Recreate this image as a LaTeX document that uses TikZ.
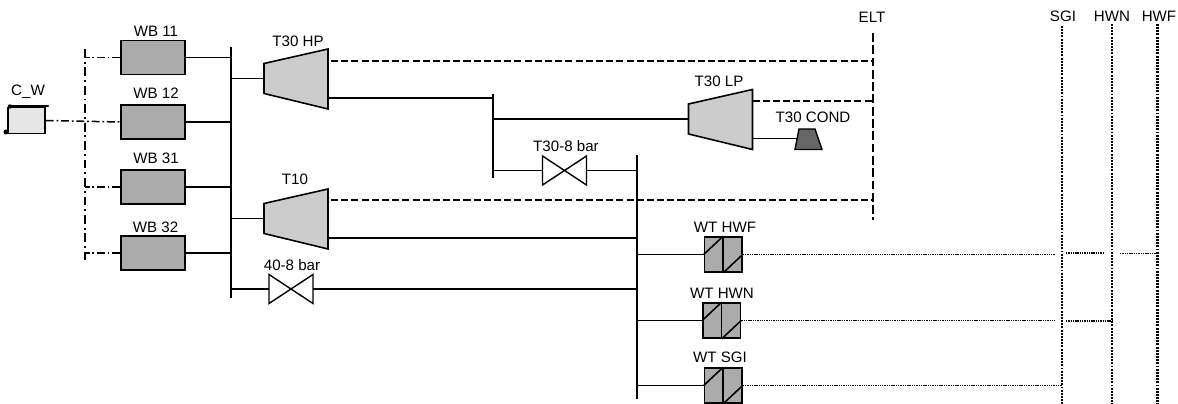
\documentclass[tikz,border=0pt]{standalone}
\usepackage{fontspec}
\setmainfont{Liberation Sans}
\definecolor{boxgray}{HTML}{ABABAB}
\definecolor{turbgray}{HTML}{CCCCCC}
\definecolor{tankgray}{HTML}{E6E6E6}
\definecolor{condgray}{HTML}{666666}
\tikzset{
	lbl/.style={font=\fontsize{8.6pt}{10pt}\selectfont,inner sep=0pt},
	pipe/.style={line width=0.9pt},
	bus/.style={line width=1.3pt},
	elec/.style={line width=0.85pt,dash pattern=on 4pt off 1.8pt},
	elecbus/.style={line width=1.3pt,dash pattern=on 5pt off 2pt},
	water/.style={line width=0.85pt,dash pattern=on 4.5pt off 1.6pt on 1pt off 1.6pt},
	waterbus/.style={line width=1.3pt,dash pattern=on 5pt off 2.2pt on 1.1pt off 2.2pt},
	heat/.style={line width=0.7pt,dash pattern=on 0.8pt off 0.5pt},
	heatbus/.style={line width=1.4pt,dash pattern=on 1.1pt off 0.7pt},
	boiler/.style={draw,line width=0.9pt,fill=boxgray,minimum width=64*0.02cm,minimum height=34*0.02cm,inner sep=0pt},
	exch/.style={draw,line width=0.9pt,fill=boxgray,minimum width=37.5*0.02cm,minimum height=35*0.02cm,inner sep=0pt},
	turbine/.pic={
		\draw[line width=0.9pt,fill=turbgray] (0,-15) -- (64,-29.5) -- (64,30.5) -- (0,15) -- cycle;
		\coordinate (-in) at (0,0);
		\coordinate (-out) at (64,19.5);
		\coordinate (-el) at (64,-18);
	},
	valve/.pic={
		\draw[line width=0.8pt,fill=white] (-22,-14.5) -- (22,14.5) -- (22,-14.5) -- (-22,14.5) -- cycle;
		\coordinate (-l) at (-22,0);
		\coordinate (-r) at (22,0);
	},
}
\begin{document}
\begin{tikzpicture}[x=0.02cm,y=-0.02cm]
		\useasboundingbox (0,0) rectangle (1178,404);
		% rails
		\coordinate(mainT)at(231,47);
		\coordinate(mainB)at(231,298);
		\coordinate(lpT)at(493,94);
		\coordinate(lpB)at(493,178);
		\coordinate(lowT)at(637,155);
		\coordinate(lowB)at(637,399);
		\coordinate(eltT)at(873,33);
		\coordinate(eltB)at(873,220);
		\coordinate(sgiT)at(1062,26);
		\coordinate(sgiB)at(1062,404);
		\coordinate(hwnT)at(1112,24);
		\coordinate(hwnB)at(1112,404);
		\coordinate(hwfT)at(1157.5,24);
		\coordinate(hwfB)at(1157.5,404);
		\coordinate(wtrT)at(85,49);
		\coordinate(wtrB)at(85,260);
		\draw[bus] (mainT) -- (mainB);
		\draw[bus] (lpT) -- (lpB);
		\draw[bus] (lowT) -- (lowB);
		\draw[elecbus] (eltT) -- (eltB);
		\draw[heatbus] (sgiT) -- (sgiB);
		\draw[heatbus] (hwnT) -- (hwnB);
		\draw[heatbus] (hwfT) -- (hwfB);
		\draw[waterbus] (wtrT) -- (wtrB);
		\node[lbl] (eltlbl) at (872,17) {ELT};
		\node[lbl] (sgilbl) at (1063,16) {SGI};
		\node[lbl] (hwnlbl) at (1112,16) {HWN};
		\node[lbl] (hwflbl) at (1159,16) {HWF};
		% cooling water tank
		\node[draw,line width=0.9pt,fill=tankgray,minimum width=37*0.02cm,minimum height=26*0.02cm,inner sep=0pt] (cw) at (26.5,120.5) {};
		\draw[line width=1.3pt,line cap=round] (10,106) -- (48,106);
		\fill (10,106.5) circle (2.2*0.02cm);
		\fill (6,132) circle (2.5*0.02cm);
		\node[lbl] (cwlbl) at (28,92) {C\_W};
		% boilers
		\foreach \name/\yb/\txt/\tx/\ty in {wb11/57.5/WB 11/156/31,wb12/122/WB 12/156/93,wb31/187/WB 31/156/158,wb32/253/WB 32/155.5/227}{%
			\node[boiler] (\name) at (153,\yb) {};
			\node[lbl] (\name lbl) at (\tx,\ty) {\txt};
			\draw[pipe] (\name.east) -- (\name.east -| mainT);
			\coordinate (\name w) at (\name.west -| wtrT);
			}
		\draw[water] (wb11.west) -- (wb11w);
		\draw[water] (wb31.west) -- (wb31w);
		\draw[water] (wb32.west) -- (wb32w);
		\draw[water] (cw.east) -- (wb12.west);
		% turbines
		\pic (hp) at (264,78.5) {turbine};
		\pic (ten) at (264,218.5) {turbine};
		\pic (lp) at (688.5,119) {turbine};
		\node[lbl] (hplbl) at (298,41) {T30 HP};
		\node[lbl] (tenlbl) at (295,179) {T10};
		\node[lbl] (lplbl) at (719,81) {T30 LP};
		\draw[pipe] (hp-in -| mainT) -- (hp-in);
		\draw[pipe] (ten-in -| mainT) -- (ten-in);
		\draw[pipe] (hp-out) -- (hp-out -| lpT);
		\draw[pipe] (ten-out) -- (ten-out -| lowT);
		\draw[pipe] (lp-in -| lpT) -- (lp-in);
		\draw[elec] (331,61) -- (331,61 -| eltT);
		\draw[elec] (331,200) -- (331,200 -| eltT);
		\draw[elec] (lp-el) -- (lp-el -| eltT);
		% condenser
		\draw[line width=0.8pt,fill=condgray] (799,129) coordinate (condA) -- (815,129) -- (822,149.5) -- (795,149.5) -- cycle;
		\node[lbl] (condlbl) at (813,117) {T30 COND};
		\coordinate (condin) at (797,138.5);
		\draw[pipe] (lp-out) -- (condin);
		% valves
		\pic (vhi) at (291,289) {valve};
		\pic (vlo) at (564.5,170.5) {valve};
		\node[lbl] (vhilbl) at (292,265) {40-8 bar};
		\node[lbl] (vlolbl) at (566,146) {T30-8 bar};
		\draw[pipe] (vhi-l -| mainT) -- (vhi-l);
		\draw[pipe] (vhi-r) -- (vhi-r -| lowT);
		\draw[pipe] (vlo-l -| lpT) -- (vlo-l);
		\draw[pipe] (vlo-r) -- (vlo-r -| lowT);
		% heat exchangers
		\foreach \name/\xb/\yb/\txt/\tx/\ty in {wthwf/723.2/254.5/WT HWF/725/227,wthwn/721.7/320.5/WT HWN/722/293,wtsgi/723.2/385.5/WT SGI/720/357}{%
			\node[exch] (\name) at (\xb,\yb) {};
			\node[lbl] (\name lbl) at (\tx,\ty) {\txt};
			\draw[line width=0.9pt] (\name.north) -- (\name.south);
			\draw[line width=0.9pt] (\name.west) -- (\name.north);
			\draw[line width=0.9pt] (\name.south) -- (\name.east);
			\draw[pipe] (\name.west -| lowT) -- (\name.west);
			}
		% heat lines
		\draw[heat] (wthwf.east) -- (wthwf.east -| 1055,0);
		\draw[heat] (1066,253) -- (1104,253);
		\draw[heat] (1120,253.5) -- (1120,253.5 -| hwfT);
		\draw[heat] (wthwn.east) -- (wthwn.east -| 1055,0);
		\draw[heat] (1066,321) -- (1066,321 -| hwnT);
		\draw[heat] (wtsgi.east) -- (wtsgi.east -| sgiT);
	\end{tikzpicture}
\end{document}
